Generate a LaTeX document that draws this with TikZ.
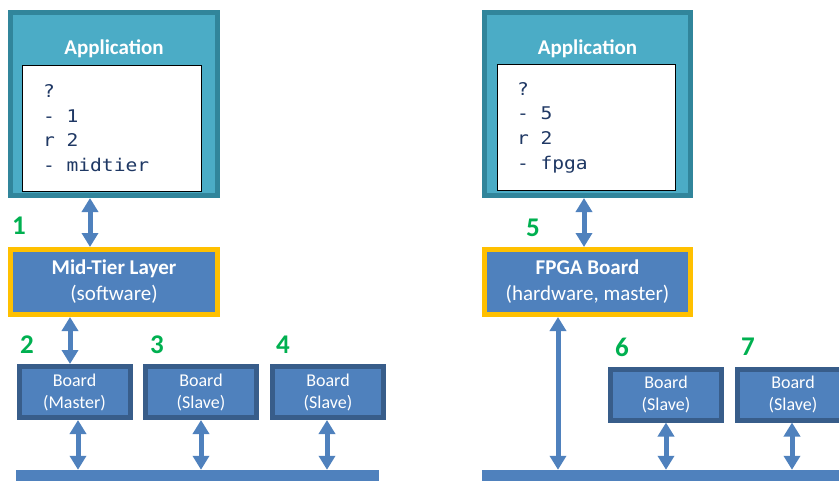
\documentclass[tikz,border=0pt]{standalone}
\usepackage{fontspec}
\setmainfont{Carlito}
\newfontfamily\codefont[FakeStretch=1.12]{DejaVu Sans Mono}
\usetikzlibrary{arrows.meta}
\definecolor{appfill}{RGB}{75,172,198}
\definecolor{appline}{RGB}{49,133,155}
\definecolor{boxfill}{RGB}{79,129,189}
\definecolor{boardline}{RGB}{56,93,138}
\definecolor{gold}{RGB}{255,192,0}
\definecolor{numgreen}{RGB}{0,176,80}
\definecolor{codeblue}{RGB}{31,56,100}
\newcommand{\gap}{\hphantom{x}}

\begin{document}
\begin{tikzpicture}[x=1pt,y=-1pt,
  appbox/.style={draw=appline,fill=appfill,line width=5pt,minimum width=207pt,minimum height=183pt},
  codebox/.style={draw=black,fill=white,line width=1pt,minimum height=126pt,text width=137pt,inner xsep=21pt,
    align=left,text=codeblue,font=\codefont\fontsize{17.5}{24.7}\selectfont},
  title/.style={text=white,font=\bfseries\fontsize{21}{26}\selectfont},
  layerbox/.style={draw=gold,fill=boxfill,line width=5pt,minimum width=207pt,minimum height=65pt,
    text=white,align=center,inner sep=0pt,font=\fontsize{21}{26}\selectfont},
  board/.style={draw=boardline,fill=boxfill,line width=5pt,minimum width=111pt,minimum height=51pt,
    text=white,align=center,inner sep=0pt,font=\fontsize{18}{22}\selectfont},
  bus/.style={fill=boxfill,minimum height=12pt,inner sep=0pt},
  num/.style={text=numgreen,font=\bfseries\fontsize{27}{27}\selectfont},
  link/.style={draw=boxfill,line width=5pt,{Triangle[width=16pt,length=14pt]}-{Triangle[width=16pt,length=14pt]}}]
   \useasboundingbox (0,0) rectangle (839,480);
   \clip (0,0) rectangle (839,480);

   \node[appbox] (appL) at (114,104) {};
   \node[title] (appLtitle) at (114,49) {Application};
   \node[codebox,minimum width=179pt] (codeL) at (111.5,128) {?\\-\gap1\\r\gap2\\-\gap midtier};
   \node[layerbox] (mid) at (114,282) {\textbf{Mid-Tier Layer}\\(software)};
   \node[board] (master) at (74.5,392) {Board\\(Master)};
   \node[board] (slaveA) at (201,392) {Board\\(Slave)};
   \node[board] (slaveB) at (328,392) {Board\\(Slave)};
   \node[bus,minimum width=363pt] (busL) at (197.5,476) {};

   \node[num] (n1) at (19,226) {1};
   \node[num] (n2) at (27,345) {2};
   \node[num] (n3) at (157,345) {3};
   \node[num] (n4) at (283,345) {4};

   \draw[link] (appL.south -| 90,0) -- (mid.north -| 90,0);
   \draw[link] (mid.south -| 70,0) -- (master.north -| 70,0);
   \draw[link] (master.south -| 78,0) -- (busL.north -| 78,0);
   \draw[link] (slaveA.south) -- (busL.north -| slaveA);
   \draw[link] (slaveB.south -| 327,0) -- (busL.north -| 327,0);

   \node[appbox,minimum width=206pt] (appR) at (587.5,104) {};
   \node[title] (appRtitle) at (587.5,49) {Application};
   \node[codebox,minimum width=178pt,inner xsep=20pt,text width=138pt] (codeR) at (586,127.5) {?\\-\gap5\\r\gap2\\-\gap fpga};
   \node[layerbox,minimum width=206pt] (fpga) at (587.5,282) {\textbf{FPGA Board}\\(hardware, master)};
   \node[board] (slaveC) at (666,394.5) {Board\\(Slave)};
   \node[board] (slaveD) at (793,394.5) {Board\\(Slave)};
   \node[bus,minimum width=380pt] (busR) at (672,476) {};

   \node[num] (n5) at (533,228) {5};
   \node[num] (n6) at (622,347) {6};
   \node[num] (n7) at (748,347) {7};

   \draw[link] (appR.south -| 584,0) -- (fpga.north -| 584,0);
   \draw[link] (fpga.south -| 558,0) -- (busR.north -| 558,0);
   \draw[link] (slaveC.south) -- (busR.north -| slaveC);
   \draw[link] (slaveD.south -| 792,0) -- (busR.north -| 792,0);
\end{tikzpicture}
\end{document}
